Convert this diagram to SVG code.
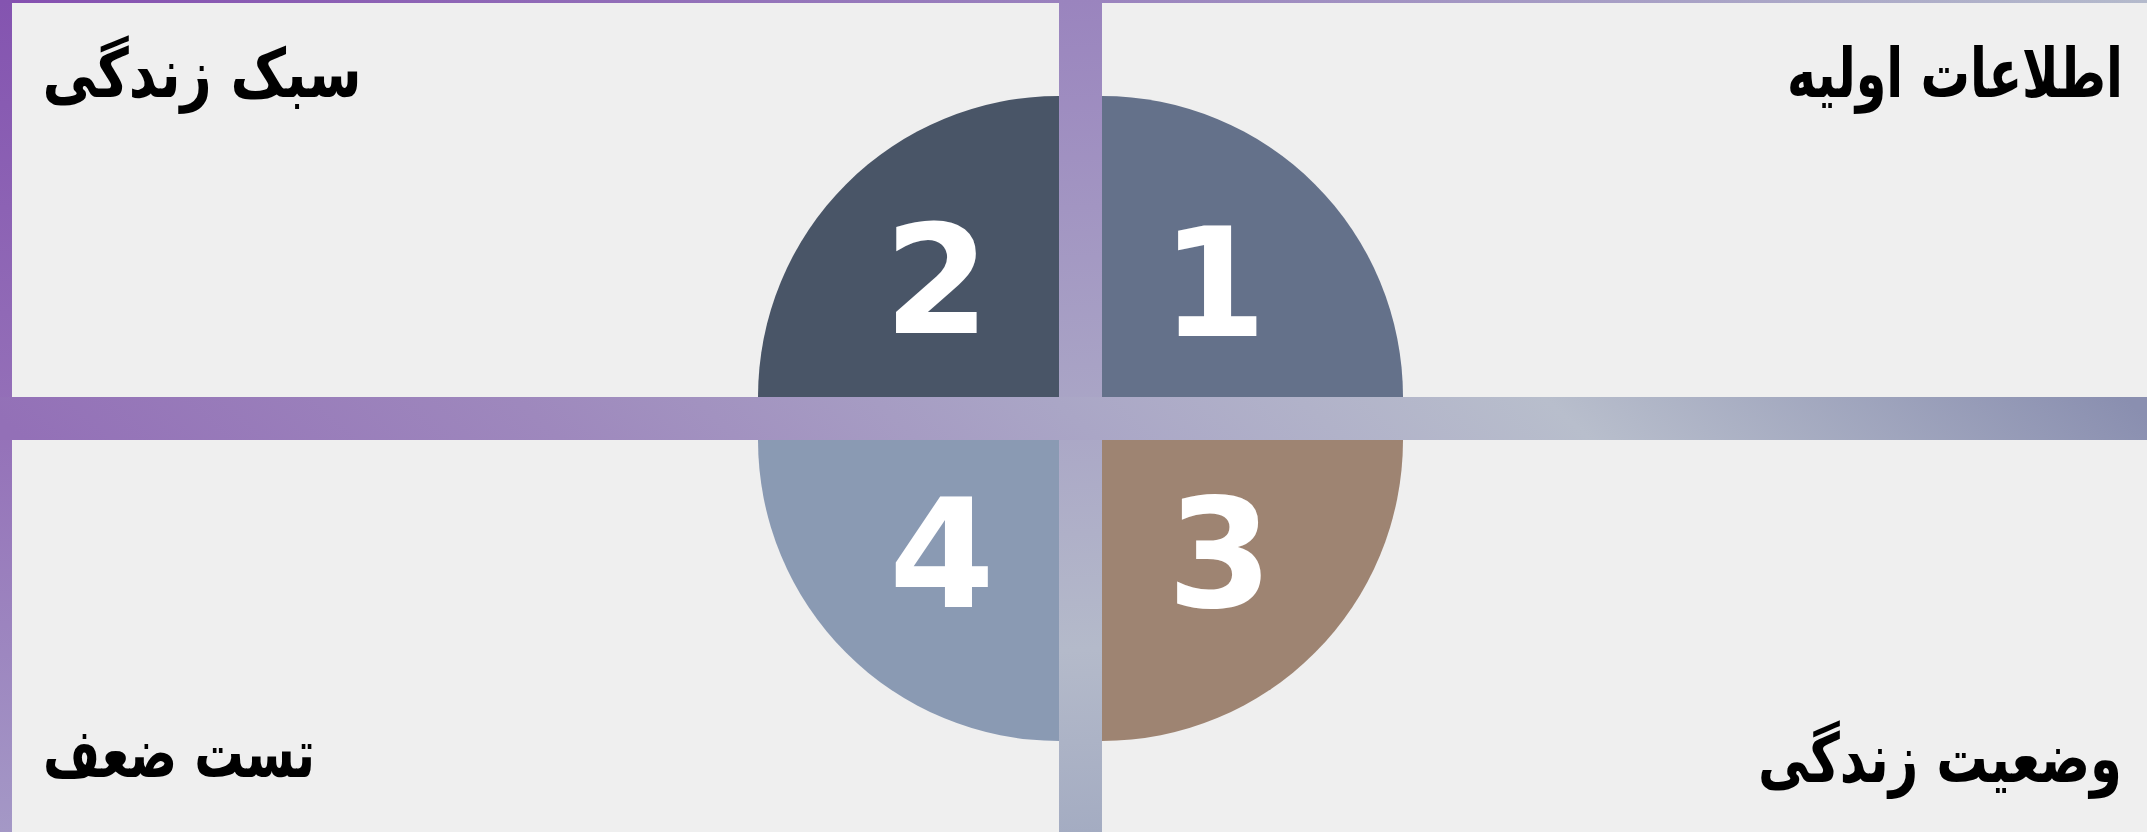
<svg xmlns="http://www.w3.org/2000/svg" width="2147" height="832" viewBox="0 0 2147 832">
<defs>
<style>
.num{font-family:"DejaVu Sans",Verdana,sans-serif;font-weight:bold;font-size:152px;fill:#FFFFFF;text-anchor:middle}
.lbl{font-family:"DejaVu Sans",sans-serif;font-weight:bold;font-size:68px;fill:#000000;text-anchor:middle}
</style>
<linearGradient id="gTop" gradientUnits="userSpaceOnUse" x1="0" y1="0" x2="2147" y2="0">
<stop offset="0" stop-color="#8550B0"/>
<stop offset="0.5" stop-color="#9A82BE"/>
<stop offset="1" stop-color="#B4BACC"/>
</linearGradient>
<linearGradient id="gLeft" gradientUnits="userSpaceOnUse" x1="0" y1="0" x2="0" y2="832">
<stop offset="0" stop-color="#8454B0"/>
<stop offset="0.5" stop-color="#9470B8"/>
<stop offset="1" stop-color="#A498C6"/>
</linearGradient>
<linearGradient id="gVert" gradientUnits="userSpaceOnUse" x1="1059" y1="0" x2="1102" y2="832">
<stop offset="0" stop-color="#9A84BE"/>
<stop offset="0.5" stop-color="#AAA6C6"/>
<stop offset="0.78" stop-color="#B4BACA"/>
<stop offset="1" stop-color="#A4ACC2"/>
</linearGradient>
<linearGradient id="gHorz" gradientUnits="userSpaceOnUse" x1="0" y1="418" x2="955" y2="-649">
<stop offset="0" stop-color="#9370B7"/>
<stop offset="0.25" stop-color="#9E88BD"/>
<stop offset="0.5" stop-color="#AAA6C6"/>
<stop offset="0.73" stop-color="#B8BECC"/>
<stop offset="1" stop-color="#8A8FB0"/>
</linearGradient>
</defs>
<rect x="0" y="0" width="2147" height="832" fill="#EFEFEF"/>
<g id="node-2">
<path d="M1059,397 L758,397 A301,301 0 0 1 1059,96 Z" fill="#495567"/>
<text class="num" x="937" y="333">2</text>
</g>
<g id="node-1">
<path d="M1102,397 L1102,96 A301,301 0 0 1 1403,397 Z" fill="#64718A"/>
<text class="num" x="1214" y="336">1</text>
</g>
<g id="node-3">
<path d="M1102,440 L1403,440 A301,301 0 0 1 1102,741 Z" fill="#9E8472"/>
<text class="num" x="1220" y="607">3</text>
</g>
<g id="node-4">
<path d="M1059,440 L1059,741 A301,301 0 0 1 758,440 Z" fill="#8A9AB3"/>
<text class="num" x="942" y="607">4</text>
</g>
<g id="frame">
<rect x="0" y="0" width="2147" height="3" fill="url(#gTop)"/>
<rect x="0" y="0" width="12" height="832" fill="url(#gLeft)"/>
<rect x="1059" y="0" width="43" height="832" fill="url(#gVert)"/>
<rect x="0" y="397" width="2147" height="43" fill="url(#gHorz)"/>
</g>
<g id="labels">
<text class="lbl" transform="translate(202,97) scale(0.818,1)" x="0" y="0" textLength="390" lengthAdjust="spacingAndGlyphs">سبک زندگی</text>
<text class="lbl" transform="translate(1955,97) scale(0.73,1)" x="0" y="0" textLength="460" lengthAdjust="spacingAndGlyphs">اطلاعات اولیه</text>
<text class="lbl" transform="translate(179,777) scale(0.733,1)" x="0" y="0" textLength="371" lengthAdjust="spacingAndGlyphs">تست ضعف</text>
<text class="lbl" transform="translate(1940,782) scale(0.758,1)" x="0" y="0" textLength="480" lengthAdjust="spacingAndGlyphs">وضعیت زندگی</text>
</g>
</svg>
